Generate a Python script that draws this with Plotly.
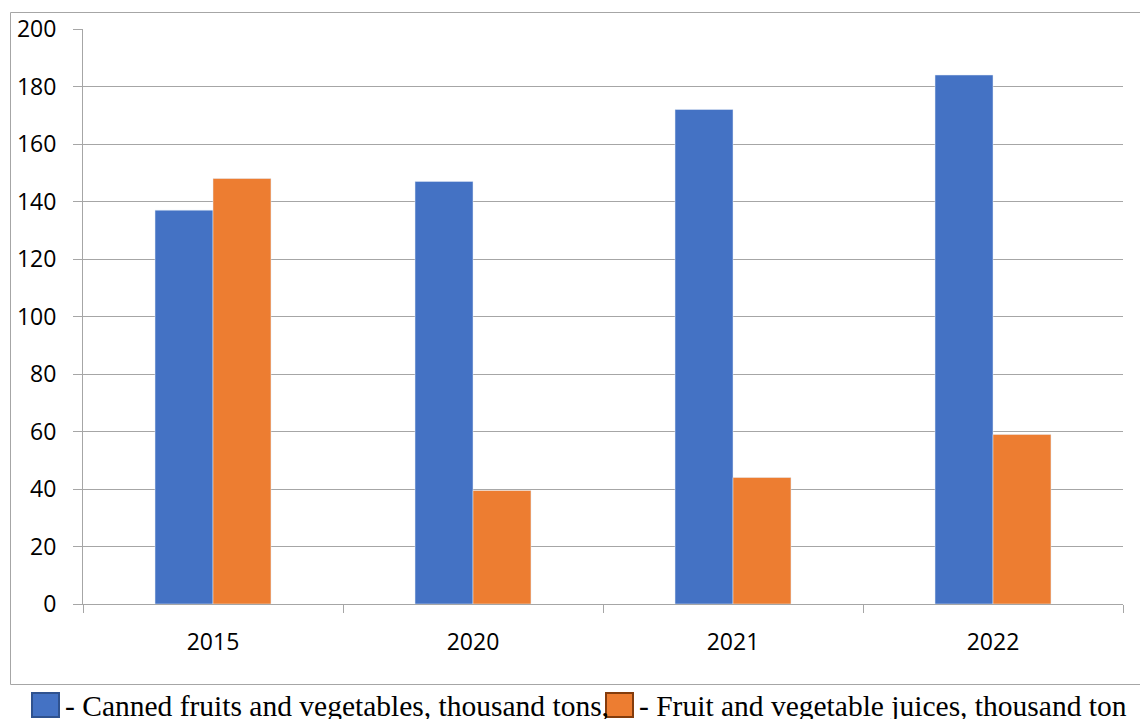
import plotly.graph_objects as go

years = ["2015", "2020", "2021", "2022"]
canned = [137, 147, 172, 184]
juices = [148, 39.5, 44, 59]
y_ticks = [0, 20, 40, 60, 80, 100, 120, 140, 160, 180, 200]

legend_canned = "- Canned fruits and vegetables, thousand tons,"
legend_juices = "- Fruit and vegetable juices, thousand ton"

BLUE = "#4472C4"
ORANGE = "#ED7D31"
GRID = "#A6A6A6"

# page has an 8px body margin, so the figure is drawn 8px in from the corner
OFF = 8
W, H = 1148 - OFF, 719 - OFF
L, R, T, B = 83 - OFF, 25, 29 - OFF, 115
pw, ph = W - L - R, H - T - B


def px_x(x):
    # page pixel -> paper x
    return (x - OFF - L) / pw


def px_y(y):
    # page pixel -> paper y
    return (H - B - (y - OFF)) / ph


fig = go.Figure()
fig.add_trace(go.Bar(x=years, y=canned, name=legend_canned, marker_color=BLUE))
fig.add_trace(go.Bar(x=years, y=juices, name=legend_juices, marker_color=ORANGE))

tick_font = dict(family="Open Sans", size=23, color="#000000")

fig.update_xaxes(
    type="category",
    tickson="boundaries",
    ticks="outside",
    ticklen=8,
    tickcolor=GRID,
    showline=True,
    linecolor=GRID,
    linewidth=1,
    showgrid=False,
    tickfont=tick_font,
    ticklabelstandoff=17,
    automargin=False,
)
fig.update_yaxes(
    range=[0, 200],
    tickvals=y_ticks,
    ticks="outside",
    ticklen=9,
    tickcolor=GRID,
    showline=True,
    linecolor=GRID,
    linewidth=1,
    showgrid=True,
    gridcolor=GRID,
    gridwidth=1,
    zeroline=False,
    tickfont=tick_font,
    ticklabelstandoff=12,
    automargin=False,
)

# outer chart border
fig.add_shape(
    type="rect", xref="paper", yref="paper",
    x0=px_x(10.5), x1=px_x(1146.5), y0=px_y(684.5), y1=px_y(12.5),
    line=dict(color=GRID, width=1), fillcolor="rgba(0,0,0,0)", layer="below",
)

# legend below the chart box
legend_items = [
    (legend_canned, BLUE, "#2F528F", 32, 63),
    (legend_juices, ORANGE, "#843C0C", 606, 637),
]
for text, fill, edge, sx, tx in legend_items:
    fig.add_shape(
        type="rect", xref="paper", yref="paper",
        x0=px_x(sx), x1=px_x(sx + 27), y0=px_y(717), y1=px_y(693),
        line=dict(color=edge, width=2), fillcolor=fill,
    )
    fig.add_annotation(
        text=text, xref="paper", yref="paper",
        x=px_x(tx), y=px_y(706), xanchor="left", yanchor="middle",
        showarrow=False,
        font=dict(family="Liberation Serif", size=29.5, color="#000000"),
    )

fig.update_layout(
    width=W,
    height=H,
    margin=dict(l=L, r=R, t=T, b=B),
    barmode="group",
    bargap=0.554,
    bargroupgap=0,
    showlegend=False,
    plot_bgcolor="white",
    paper_bgcolor="white",
)

fig.write_html("out.html")
